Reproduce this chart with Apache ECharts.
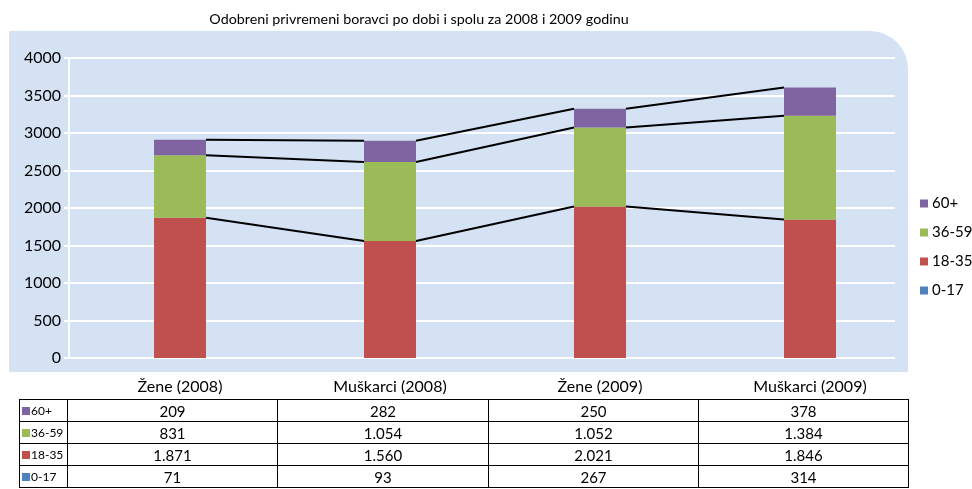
<!DOCTYPE html>
<html lang="hr">
<head>
  <meta charset="UTF-8">
  <title>Odobreni privremeni boravci</title>
  <script src="https://cdn.jsdelivr.net/npm/echarts@6/dist/echarts.min.js"></script>
  <style>
    body { margin: 0; background: #fff; }
    #wrap { position: relative; width: 972px; height: 489px; }
    #chart { width: 972px; height: 489px; }
    #tbl { position: absolute; left: 19px; top: 399px; border-collapse: collapse;
           font-family: Lato, sans-serif; color: #000; table-layout: fixed; }
    #tbl td { border: 1.5px solid #000; height: 21px; padding: 0; text-align: center; font-size: 15px; }
    #tbl td.key { text-align: left; font-size: 12px; padding-left: 2px; }
    #tbl .sq { display: inline-block; width: 8px; height: 8px; margin-right: 1px; }
  </style>
</head>
<body>
<div id="wrap">
  <div id="chart"></div>
  <table id="tbl"></table>
</div>
<script>
  // podaci
  const categories = ['Žene (2008)', 'Muškarci (2008)', 'Žene (2009)', 'Muškarci (2009)'];
  const age0_17 = [71, 93, 267, 314];
  const age18_35 = [1871, 1560, 2021, 1846];
  const age36_59 = [831, 1054, 1052, 1384];
  const age60 = [209, 282, 250, 378];
  const yTicks = [0, 500, 1000, 1500, 2000, 2500, 3000, 3500, 4000];

  const colors = { '0-17': '#4F81BD', '18-35': '#C0504D', '36-59': '#9BBB59', '60+': '#8064A2' };
  const barW = 52;

  // vrhovi stupaca za linije serija
  const top1 = age18_35.slice();
  const top2 = top1.map((v, i) => v + age36_59[i]);
  const top3 = top2.map((v, i) => v + age60[i]);

  function seriesLine(tops) {
    return {
      type: 'custom', xAxisIndex: 1, yAxisIndex: 1, silent: true, z: 5,
      data: tops.slice(0, -1).map((v, i) => [i, v, tops[i + 1]]),
      renderItem: (params, api) => {
        const i = api.value(0);
        const p1 = api.coord([i, api.value(1)]);
        const p2 = api.coord([i + 1, api.value(2)]);
        return {
          type: 'line',
          shape: { x1: p1[0] + barW / 2, y1: p1[1], x2: p2[0] - barW / 2, y2: p2[1] },
          style: { stroke: '#000', lineWidth: 2 }
        };
      }
    };
  }

  function bar(name, data, stack) {
    return {
      name: name, type: 'bar', stack: stack, data: data,
      xAxisIndex: 1, yAxisIndex: 1, barWidth: barW, barGap: '-100%',
      itemStyle: { color: colors[name] }
    };
  }

  const font = 'Lato, sans-serif';
  let myChart = echarts.init(document.getElementById('chart'));
  let option = {
    animation: false,
    title: {
      text: 'Odobreni privremeni boravci po dobi i spolu za 2008 i 2009 godinu',
      left: 414, top: 7, textAlign: 'center',
      textStyle: { fontFamily: font, fontSize: 14.3, fontWeight: 'normal', color: '#000' }
    },
    graphic: [{
      type: 'rect', z: -10,
      shape: { x: 9, y: 31, width: 899, height: 341, r: [0, 38, 0, 0] },
      style: { fill: '#D4E2F4' }
    }],
    legend: {
      orient: 'vertical', left: 915, top: 191, itemGap: 14,
      itemWidth: 8, itemHeight: 8, icon: 'rect',
      data: ['60+', '36-59', '18-35', '0-17'],
      textStyle: { fontFamily: font, fontSize: 15, color: '#000', padding: [0, 0, 0, -1] }
    },
    grid: [
      { left: 69, top: 58, width: 826, height: 300 },
      { left: 75, top: 58, width: 840, height: 300 }
    ],
    xAxis: [
      { type: 'category', gridIndex: 0, data: categories, show: false },
      {
        type: 'category', gridIndex: 1, data: categories,
        axisLine: { show: false }, axisTick: { show: false },
        axisLabel: { fontFamily: font, fontSize: 16, color: '#000', margin: 21 }
      }
    ],
    yAxis: [
      {
        type: 'value', gridIndex: 0, min: 0, max: 4000, interval: 500,
        axisLine: { show: true, lineStyle: { color: '#fff', width: 2 } },
        axisTick: { show: true, length: 5, lineStyle: { color: '#fff', width: 2 } },
        splitLine: { lineStyle: { color: '#fff', width: 2 } },
        axisLabel: {
          fontFamily: font, fontSize: 16, color: '#000', margin: 8,
          formatter: v => yTicks.includes(v) ? String(v) : ''
        }
      },
      { type: 'value', gridIndex: 1, min: 0, max: 4000, show: false }
    ],
    series: [
      bar('0-17', age0_17, 'b'),
      bar('18-35', age18_35, 'a'),
      bar('36-59', age36_59, 'a'),
      bar('60+', age60, 'a'),
      seriesLine(top1),
      seriesLine(top2),
      seriesLine(top3)
    ]
  };
  myChart.setOption(option);

  // tablica podataka
  function fmt(n) {
    return String(n).replace(/\B(?=(\d{3})+(?!\d))/g, '.');
  }
  const rows = [['60+', age60], ['36-59', age36_59], ['18-35', age18_35], ['0-17', age0_17]];
  const widths = [48, 210, 211, 210, 210];
  let html = '<colgroup>' + widths.map(w => '<col style="width:' + w + 'px">').join('') + '</colgroup>';
  rows.forEach(r => {
    html += '<tr><td class="key"><span class="sq" style="background:' + colors[r[0]] + '"></span>' + r[0] + '</td>';
    r[1].forEach(v => { html += '<td>' + fmt(v) + '</td>'; });
    html += '</tr>';
  });
  document.getElementById('tbl').innerHTML = html;
</script>
</body>
</html>
